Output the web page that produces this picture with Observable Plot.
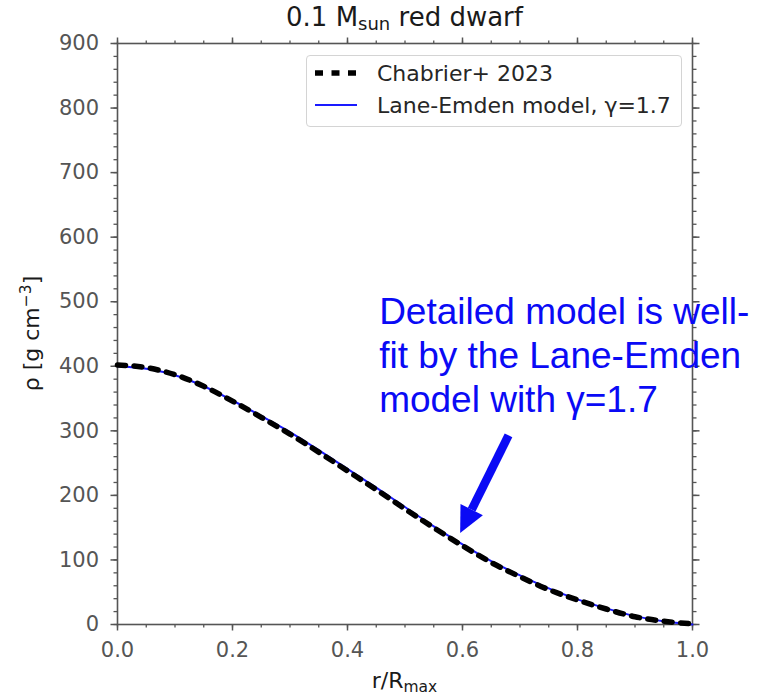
<!DOCTYPE html>
<html>
<head>
<meta charset="utf-8">
<script src="https://cdn.jsdelivr.net/npm/d3@7"></script>
<script src="https://cdn.jsdelivr.net/npm/@observablehq/plot@0.6"></script>
<style>
  body { margin: 0; background: #fff; }
  #chart { position: relative; width: 759px; height: 697px; }
  .legend {
    position: absolute; left: 306px; top: 55px; width: 376px; height: 72px;
    box-sizing: border-box; border: 1.5px solid #d4d4d4; border-radius: 4px;
    background: rgba(255,255,255,0.85);
    font-family: "DejaVu Sans", sans-serif; font-size: 22px; color: #262626;
  }
  .legend .item { position: absolute; left: 0; height: 30px; display: flex; align-items: center; }
  .legend svg { margin-left: 8px; margin-right: 20px; }
</style>
</head>
<body>
<div id="chart"></div>
<script>
// Density profile of a 0.1 solar-mass red dwarf, normalised radius
const radius = [0.00, 0.05, 0.10, 0.15, 0.20, 0.25, 0.30, 0.35, 0.40, 0.45, 0.50,
                0.55, 0.60, 0.65, 0.70, 0.75, 0.80, 0.85, 0.90, 0.95, 1.00];
// Chabrier et al. (2023) detailed model, g cm^-3
const rhoChabrier = [402, 398, 387, 369, 346, 321, 295, 267, 238, 209, 179,
                     150, 122, 96, 74, 54, 38, 24, 12, 5, 1];
// Lane-Emden polytrope fit, gamma = 1.7
const rhoLaneEmden = [400, 396, 386, 369, 347, 323, 298, 270, 241, 212, 182,
                      152, 124, 98, 76, 56, 39, 25, 13, 5, 0];

const seriesNames = ["Chabrier+ 2023", "Lane-Emden model, γ=1.7"];

const xTicks = [0, 0.2, 0.4, 0.6, 0.8, 1.0];
const xTickLabels = ["0.0", "0.2", "0.4", "0.6", "0.8", "1.0"];
const yTicks = [0, 100, 200, 300, 400, 500, 600, 700, 800, 900];
const yTickLabels = ["0", "100", "200", "300", "400", "500", "600", "700", "800", "900"];
const xMinor = d3.range(0, 21).map(i => i * 0.05);
const yMinor = d3.range(0, 46).map(i => i * 20);

const note = {
  text: "Detailed model is well-\nfit by the Lane-Emden\nmodel with γ=1.7",
  x: 0.455, y: 514
};
const pointer = {x1: 0.680, y1: 293, x2: 0.616, y2: 178};

const axisColor = "#555";
const noteColor = "#0a0af5";

// filled triangular head for the annotation arrow
function solidHead(color) {
  const m = d3.create("svg:marker")
    .attr("viewBox", "0 -12.5 26 25")
    .attr("markerWidth", 26).attr("markerHeight", 25)
    .attr("markerUnits", "userSpaceOnUse")
    .attr("refX", 0).attr("refY", 0)
    .attr("orient", "auto")
    .attr("overflow", "visible");
  m.append("path").attr("d", "M0,-12.5L26,0L0,12.5Z").attr("fill", color).attr("stroke", "none");
  return m.node();
}

const xFmt = d => xTickLabels[xTicks.findIndex(t => Math.abs(t - d) < 1e-9)];
const yFmt = d => yTickLabels[yTicks.indexOf(d)];
const blank = () => "";

const plot = Plot.plot({
  width: 759,
  height: 697,
  marginTop: 43,
  marginBottom: 73,
  marginLeft: 117,
  marginRight: 67,
  style: {fontFamily: "DejaVu Sans, sans-serif", fontSize: "21px", color: axisColor, background: "#fff"},
  x: {domain: [0, 1]},
  y: {domain: [0, 900]},
  marks: [
    // minor ticks on all four sides
    Plot.axisX(xMinor, {anchor: "bottom", tickSize: 3.5, tickFormat: blank, label: null, strokeWidth: 1.3}),
    Plot.axisX(xMinor, {anchor: "top", tickSize: 3.5, tickFormat: blank, label: null, strokeWidth: 1.3}),
    Plot.axisY(yMinor, {anchor: "left", tickSize: 3.5, tickFormat: blank, label: null, strokeWidth: 1.3}),
    Plot.axisY(yMinor, {anchor: "right", tickSize: 3.5, tickFormat: blank, label: null, strokeWidth: 1.3}),
    // major ticks
    Plot.axisX(xTicks, {anchor: "bottom", tickSize: 6.5, tickPadding: 11, tickFormat: xFmt, label: null, strokeWidth: 1.5}),
    Plot.axisX(xTicks, {anchor: "top", tickSize: 6.5, tickFormat: blank, label: null, strokeWidth: 1.5}),
    Plot.axisY(yTicks, {anchor: "left", tickSize: 6.5, tickPadding: 12, tickFormat: yFmt, label: null, strokeWidth: 1.5}),
    Plot.axisY(yTicks, {anchor: "right", tickSize: 6.5, tickFormat: blank, label: null, strokeWidth: 1.5}),
    Plot.frame({stroke: axisColor, strokeWidth: 1.6}),
    Plot.line(radius, {x: radius, y: rhoLaneEmden, stroke: "#1a1aff", strokeWidth: 2, curve: "monotone-x"}),
    Plot.line(radius, {x: radius, y: rhoChabrier, stroke: "#000", strokeWidth: 5.5, strokeDasharray: "8,8.5", curve: "monotone-x"}),
    Plot.text([note], {
      x: "x", y: "y", text: "text", textAnchor: "start", lineAnchor: "top", lineHeight: 1.19,
      fontSize: 37, fontFamily: "Liberation Sans, Arial, sans-serif", fill: noteColor
    }),
    Plot.link([pointer], {
      x1: "x1", y1: "y1", x2: "x2", y2: "y2",
      stroke: noteColor, strokeWidth: 8.5, markerEnd: solidHead
    })
  ]
});

document.getElementById("chart").appendChild(plot);

// title and axis labels with sub/superscripts
const xs = plot.scale("x").range, ys = plot.scale("y").range;
const cx = (xs[0] + xs[1]) / 2, cy = (ys[0] + ys[1]) / 2;
const svg = d3.select(plot);

const title = svg.append("text")
  .attr("x", cx).attr("y", 26).attr("text-anchor", "middle")
  .attr("font-size", 26).attr("fill", "#1a1a1a");
title.append("tspan").text("0.1 M");
title.append("tspan").attr("font-size", 18).attr("dy", 4).text("sun");
title.append("tspan").attr("dy", -4).text(" red dwarf");

const xl = svg.append("text")
  .attr("x", cx).attr("y", 688).attr("text-anchor", "middle")
  .attr("font-size", 22).attr("fill", "#1a1a1a");
xl.append("tspan").text("r/R");
xl.append("tspan").attr("font-size", 15.5).attr("dy", 4).text("max");

const yl = svg.append("text")
  .attr("transform", `translate(39,${cy}) rotate(-90)`).attr("text-anchor", "middle")
  .attr("font-size", 22).attr("fill", "#1a1a1a");
yl.append("tspan").text("ρ [g cm");
yl.append("tspan").attr("font-size", 15.5).attr("dy", -8).text("−3");
yl.append("tspan").attr("dy", 8).text("]");

// legend
const legend = d3.select("#chart").append("div").attr("class", "legend");
const samples = [
  {name: seriesNames[0], stroke: "#000", width: 5.5, dash: "8,8.5"},
  {name: seriesNames[1], stroke: "#1a1aff", width: 2, dash: null}
];
samples.forEach((s, i) => {
  const item = legend.append("div").attr("class", "item").style("top", `${2 + i * 32}px`);
  const sw = item.append("svg").attr("width", 42).attr("height", 12);
  sw.append("line").attr("x1", 0).attr("x2", 42).attr("y1", 6).attr("y2", 6)
    .attr("stroke", s.stroke).attr("stroke-width", s.width)
    .attr("stroke-dasharray", s.dash);
  item.append("span").text(s.name);
});
</script>
</body>
</html>
